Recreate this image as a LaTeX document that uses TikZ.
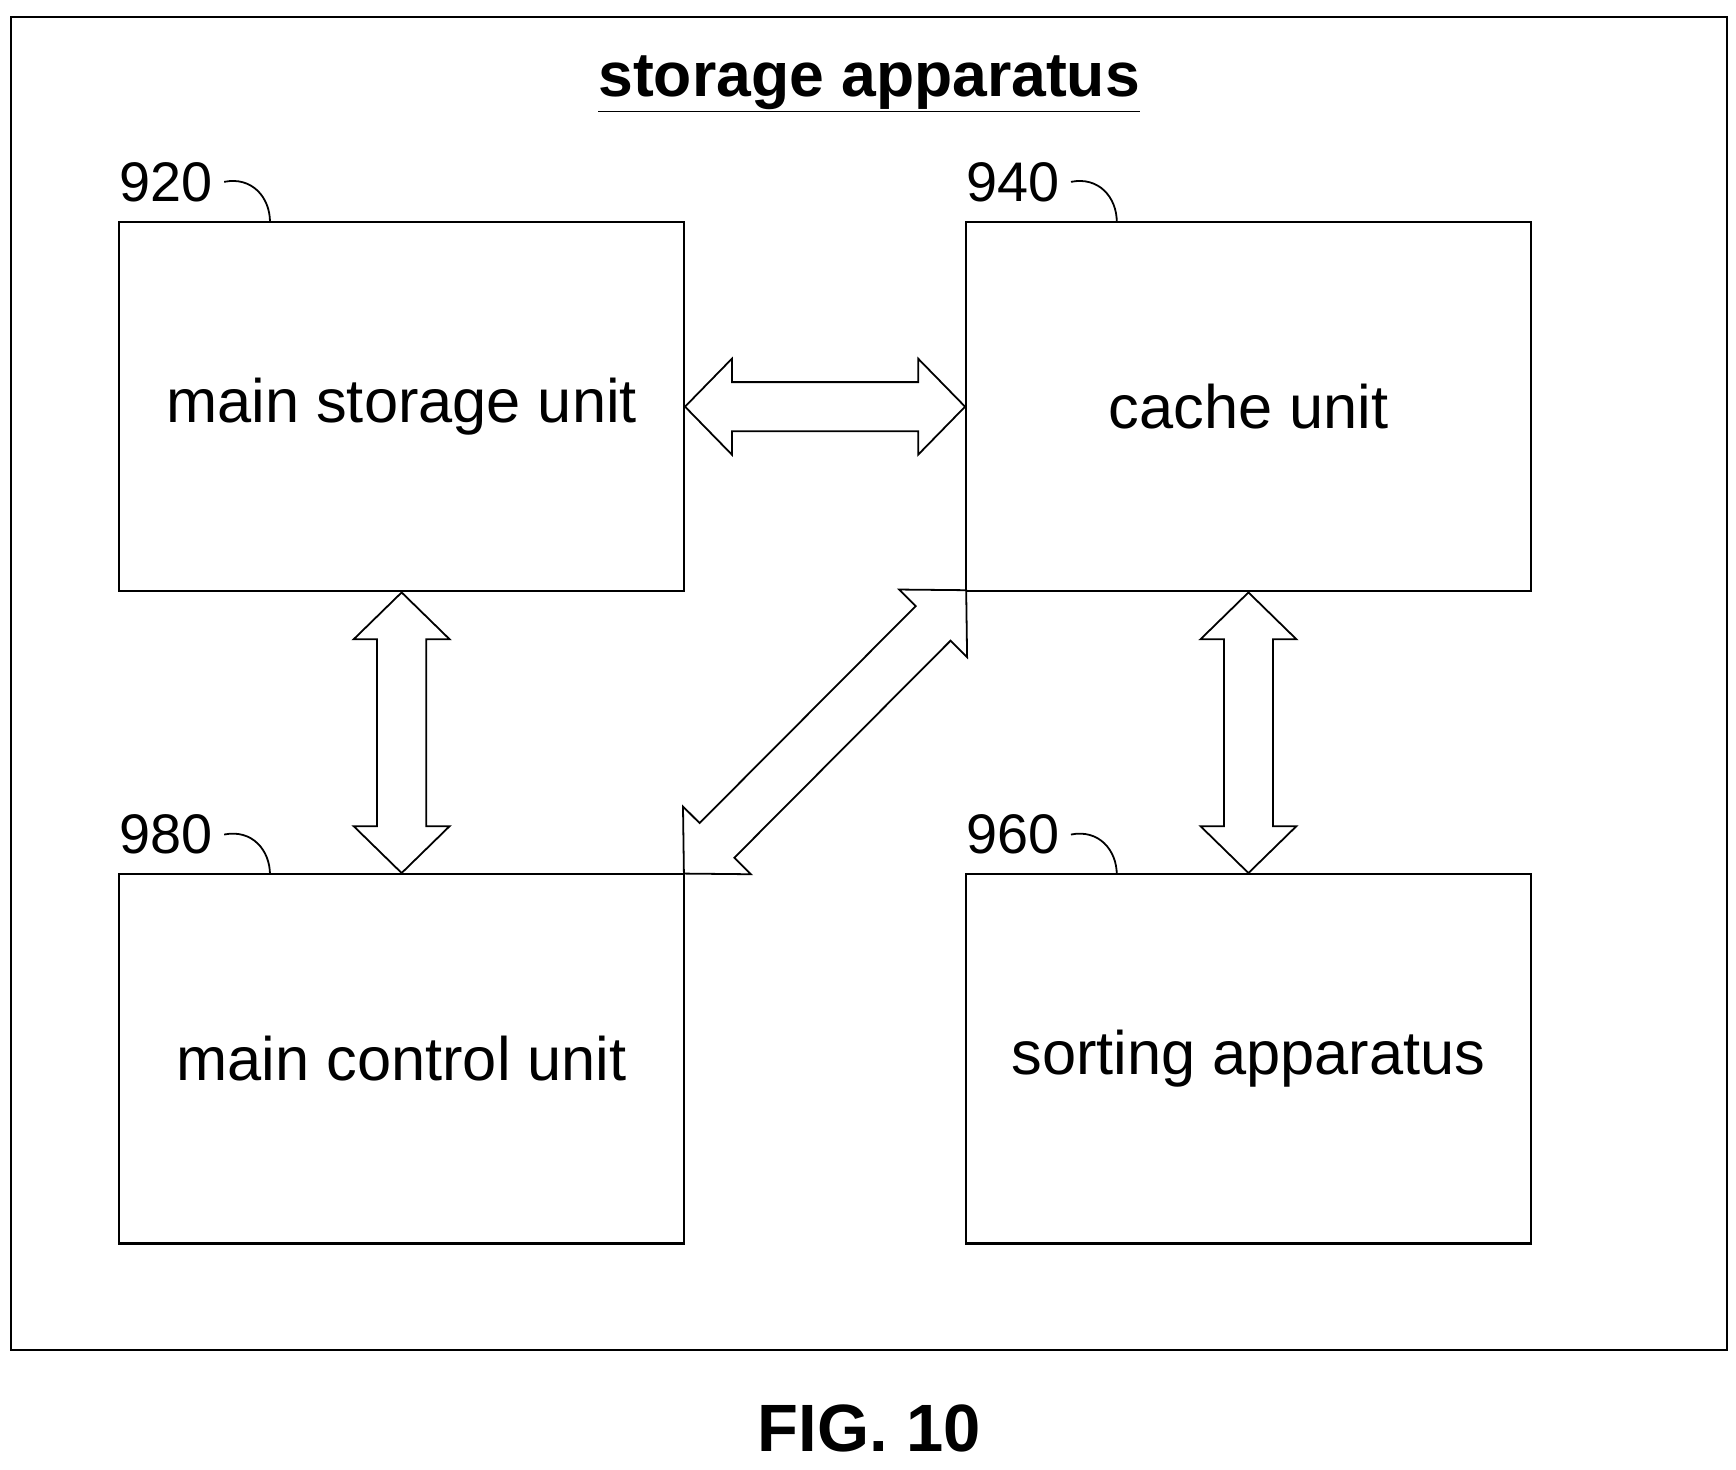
\documentclass[tikz,border=0pt]{standalone}
\usepackage{fontspec}
\setmainfont{Liberation Sans}
\usetikzlibrary{calc}
\begin{document}
\begin{tikzpicture}[x=1pt,y=-1pt,
 box/.style={draw,line width=2pt,minimum width=506pt,minimum height=331pt,inner sep=0pt,font=\fontsize{55}{66}\selectfont},
 num/.style={font=\fontsize{50}{60}\selectfont,inner sep=0pt},
 lead/.style={line width=1.6pt},
 arr/.style={line width=1.6pt,fill=white,line join=miter}]
\newcommand\dblarr[2]{%
 \coordinate (h1) at ($(#1)!42pt!(#2)$);
 \coordinate (h2) at ($(#2)!42pt!(#1)$);
 \draw[arr] (#1) -- ($(h1)!43pt!90:(#2)$) -- ($(h1)!22pt!90:(#2)$) -- ($(h2)!22pt!-90:(#1)$) -- ($(h2)!43pt!-90:(#1)$) -- (#2) -- ($(h2)!43pt!90:(#1)$) -- ($(h2)!22pt!90:(#1)$) -- ($(h1)!22pt!-90:(#2)$) -- ($(h1)!43pt!-90:(#2)$) -- cycle;}
\useasboundingbox (0,0) rectangle (1556,1317);
\draw[line width=2pt] (10,15) rectangle (1548,1210);
\node[font=\bfseries\fontsize{56}{66}\selectfont] (title) at (779,75) {\underline{storage apparatus}};
\node[box] (ms) at (360,364.5) {main storage unit};
\node[box] (cu) at (1119,364.5) {cache unit};
\node[box] (mc) at (360,949) {main control unit};
\node[box] (sa) at (1119,949) {sorting apparatus};
\node[num] (n920) at (149,163) {920};
\node[num] (n940) at (908,163) {940};
\node[num] (n980) at (149,748) {980};
\node[num] (n960) at (908,748) {960};
\draw[lead] ([xshift=10pt]n920.east) .. controls +(25,-5) and +(0,-22) .. (242,199);
\draw[lead] ([xshift=10pt]n940.east) .. controls +(25,-5) and +(0,-22) .. (1001,199);
\draw[lead] ([xshift=10pt]n980.east) .. controls +(25,-5) and +(0,-22) .. (242,784);
\draw[lead] ([xshift=10pt]n960.east) .. controls +(25,-5) and +(0,-22) .. (1001,784);
\dblarr{ms.east}{cu.west}
\dblarr{ms.south}{mc.north}
\dblarr{cu.south}{sa.north}
\coordinate (d1) at (866,529);
\coordinate (d2) at (613,783);
\dblarr{d1}{d2}
\node[font=\bfseries\fontsize{60}{72}\selectfont] (fig) at (779,1280) {FIG. 10};
\end{tikzpicture}
\end{document}
